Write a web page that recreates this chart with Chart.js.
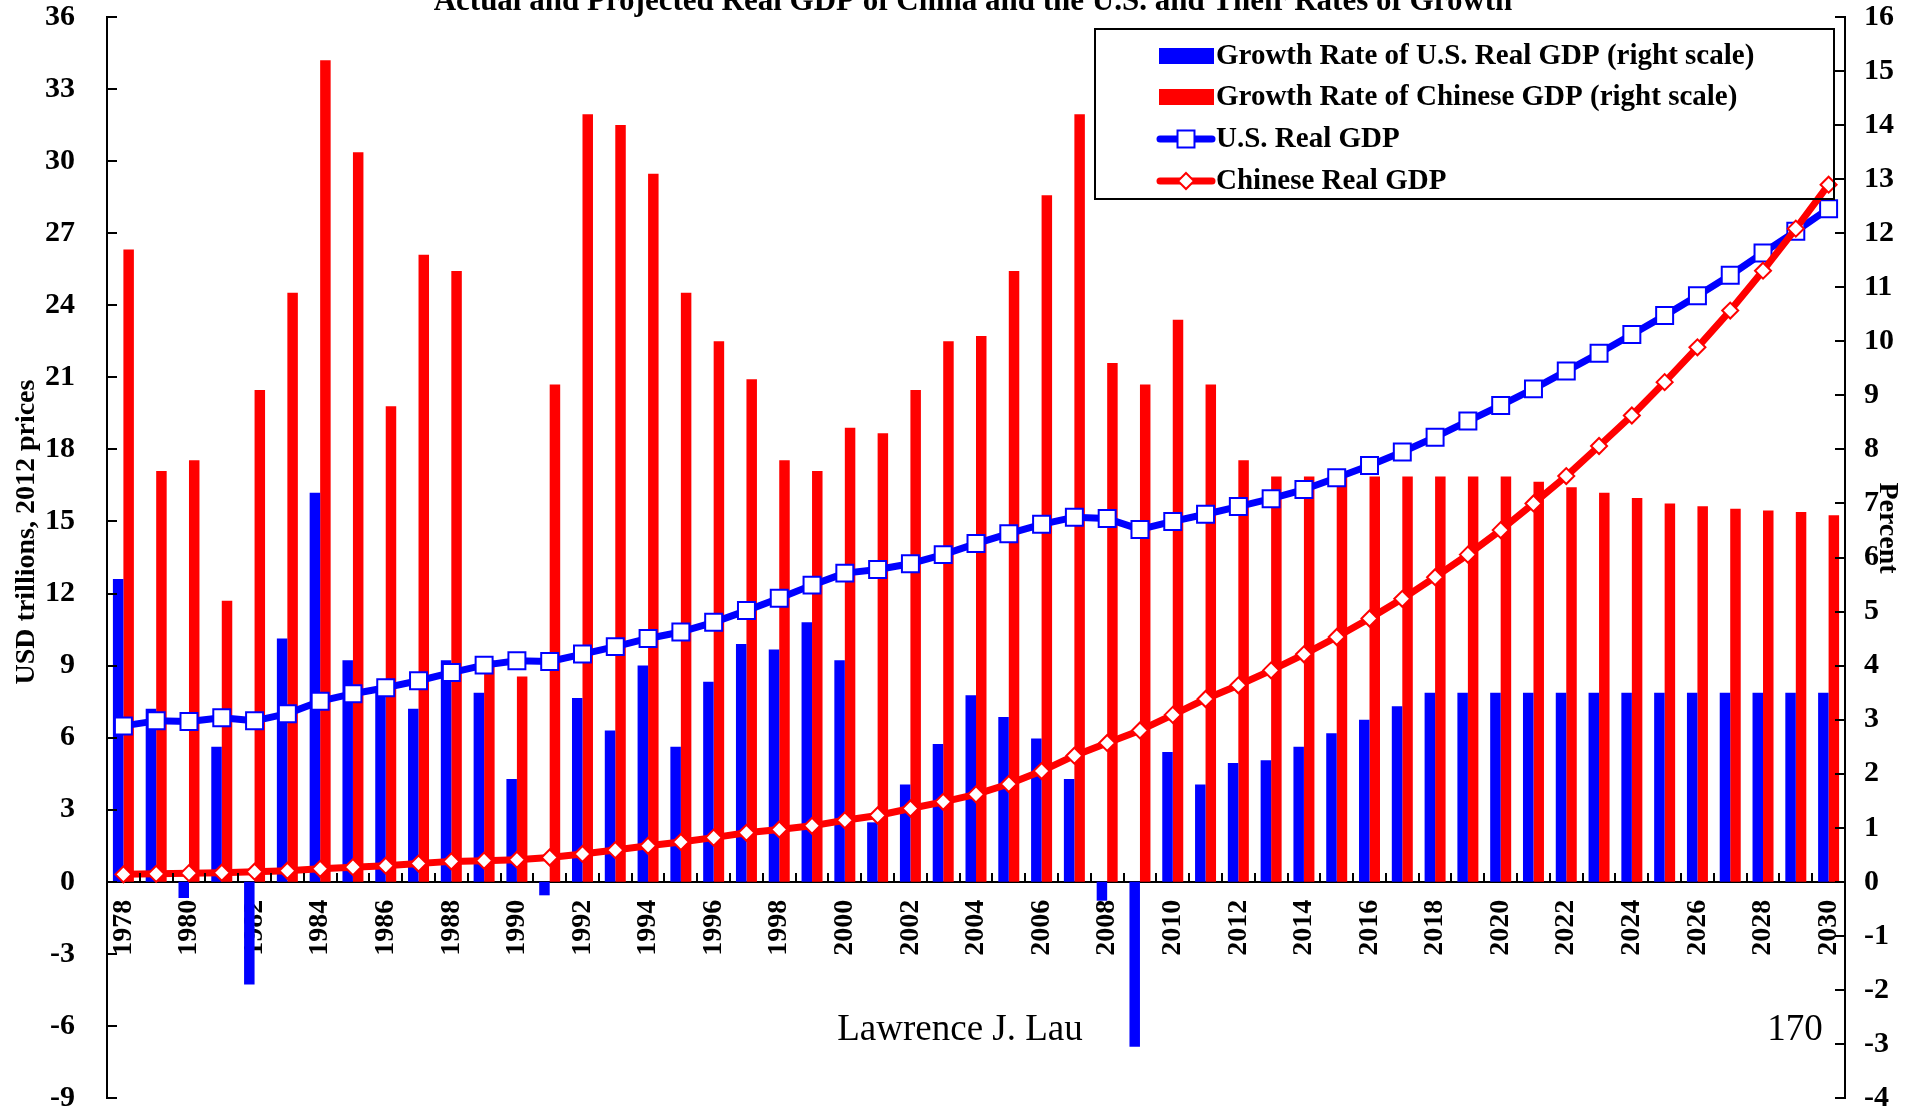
<!DOCTYPE html>
<html>
<head>
<meta charset="utf-8">
<title>Actual and Projected Real GDP of China and the U.S.</title>
<script src="https://cdn.jsdelivr.net/npm/chart.js@4.4.1/dist/chart.umd.min.js"></script>
<style>
  html, body { margin: 0; padding: 0; background: #ffffff; }
  #wrap { position: relative; width: 1907px; height: 1112px; }
</style>
</head>
<body>
<div id="wrap"><canvas id="gdp" width="1907" height="1112"></canvas></div>
<script>
// years on the category axis
var years = [
  '1978','1979','1980','1981','1982','1983','1984','1985','1986','1987',
  '1988','1989','1990','1991','1992','1993','1994','1995','1996','1997',
  '1998','1999','2000','2001','2002','2003','2004','2005','2006','2007',
  '2008','2009','2010','2011','2012','2013','2014','2015','2016','2017',
  '2018','2019','2020','2021','2022','2023','2024','2025','2026','2027',
  '2028','2029','2030'
];

// growth rates, percent (right scale)
var usGrowth = [
  5.6, 3.2, -0.3, 2.5, -1.9, 4.5, 7.2, 4.1, 3.5, 3.2,
  4.1, 3.5, 1.9, -0.25, 3.4, 2.8, 4.0, 2.5, 3.7, 4.4,
  4.3, 4.8, 4.1, 1.1, 1.8, 2.55, 3.45, 3.05, 2.65, 1.9,
  -0.35, -3.05, 2.4, 1.8, 2.2, 2.25, 2.5, 2.75, 3.0, 3.25,
  3.5, 3.5, 3.5, 3.5, 3.5, 3.5, 3.5, 3.5, 3.5, 3.5,
  3.5, 3.5, 3.5
];
var cnGrowth = [
  11.7, 7.6, 7.8, 5.2, 9.1, 10.9, 15.2, 13.5, 8.8, 11.6,
  11.3, 4.1, 3.8, 9.2, 14.2, 14.0, 13.1, 10.9, 10.0, 9.3,
  7.8, 7.6, 8.4, 8.3, 9.1, 10.0, 10.1, 11.3, 12.7, 14.2,
  9.6, 9.2, 10.4, 9.2, 7.8, 7.5, 7.5, 7.5, 7.5, 7.5,
  7.5, 7.5, 7.5, 7.4, 7.3, 7.2, 7.1, 7.0, 6.95, 6.9,
  6.87, 6.84, 6.78
];

// real GDP, USD trillions at 2012 prices (left scale)
var usGDP = [
  6.49, 6.70, 6.67, 6.83, 6.70, 7.00, 7.52, 7.83, 8.08, 8.37,
  8.71, 9.02, 9.20, 9.17, 9.48, 9.79, 10.13, 10.40, 10.80, 11.29,
  11.80, 12.35, 12.85, 13.00, 13.24, 13.62, 14.08, 14.49, 14.88, 15.18,
  15.12, 14.67, 15.00, 15.30, 15.62, 15.95, 16.33, 16.82, 17.33, 17.89,
  18.51, 19.18, 19.83, 20.52, 21.26, 22.00, 22.78, 23.57, 24.40, 25.25,
  26.18, 27.08, 28.02
];
var cnGDP = [
  0.31, 0.33, 0.36, 0.38, 0.42, 0.46, 0.54, 0.61, 0.67, 0.76,
  0.85, 0.88, 0.92, 1.01, 1.16, 1.32, 1.50, 1.66, 1.84, 2.04,
  2.18, 2.33, 2.56, 2.76, 3.05, 3.33, 3.64, 4.07, 4.61, 5.25,
  5.78, 6.30, 6.95, 7.61, 8.18, 8.80, 9.47, 10.19, 10.96, 11.78,
  12.68, 13.62, 14.64, 15.75, 16.89, 18.14, 19.41, 20.80, 22.25, 23.78,
  25.44, 27.19, 29.02
];

var BLUE = '#0000ff';
var RED = '#ff0000';
var SERIF = '"Liberation Serif", "Times New Roman", serif';

// inward tick marks, titles, footer and the boxed legend
var decorations = {
  id: 'decorations',
  afterDraw: function (chart) {
    var ctx = chart.ctx;
    var area = chart.chartArea;
    var yl = chart.scales.y, yr = chart.scales.y1, xs = chart.scales.x;
    var zero = Math.round(yl.getPixelForValue(0));

    ctx.save();
    ctx.strokeStyle = '#000';
    ctx.lineWidth = 2;
    ctx.beginPath();
    yl.ticks.forEach(function (t) {
      var py = Math.round(yl.getPixelForValue(t.value));
      ctx.moveTo(area.left, py); ctx.lineTo(area.left + 10, py);
    });
    yr.ticks.forEach(function (t) {
      var py = Math.round(yr.getPixelForValue(t.value));
      ctx.moveTo(area.right, py); ctx.lineTo(area.right - 10, py);
    });
    var half = (xs.getPixelForValue(1) - xs.getPixelForValue(0)) / 2;
    for (var i = 0; i <= years.length; i++) {
      var px = Math.round(xs.getPixelForValue(i) - half);
      ctx.moveTo(px, zero); ctx.lineTo(px, zero - 9);
    }
    ctx.stroke();

    ctx.fillStyle = '#000';
    ctx.textAlign = 'center';
    ctx.textBaseline = 'alphabetic';
    ctx.font = 'bold 31px ' + SERIF;
    ctx.fillText('Actual and Projected Real GDP of China and the U.S. and Their Rates of Growth', 973, 10);

    ctx.textBaseline = 'middle';
    ctx.font = 'bold 28px ' + SERIF;
    ctx.save();
    ctx.translate(27, 532);
    ctx.rotate(-Math.PI / 2);
    ctx.fillText('USD trillions, 2012 prices', 0, 0);
    ctx.restore();
    ctx.save();
    ctx.translate(1887, 528);
    ctx.rotate(Math.PI / 2);
    ctx.fillText('Percent', 0, 0);
    ctx.restore();

    ctx.font = '37px ' + SERIF;
    ctx.fillText('Lawrence J. Lau', 960, 1030);
    ctx.fillText('170', 1795, 1030);

    // legend
    ctx.lineWidth = 2;
    ctx.strokeRect(1095, 29, 739, 170);
    var rows = [56, 97, 139, 181];
    ctx.textAlign = 'left';
    ctx.font = 'bold 29px ' + SERIF;
    chart.data.datasets.forEach(function (ds, k) {
      var cy = rows[k];
      if (ds.type === 'bar') {
        ctx.fillStyle = ds.backgroundColor;
        ctx.fillRect(1159, cy - 8, 55, 16);
      } else {
        ctx.strokeStyle = ds.borderColor;
        ctx.lineWidth = 7;
        ctx.lineCap = 'round';
        ctx.beginPath();
        ctx.moveTo(1160, cy); ctx.lineTo(1212, cy);
        ctx.stroke();
        ctx.lineCap = 'butt';
        ctx.fillStyle = '#fff';
        ctx.lineWidth = 2;
        ctx.beginPath();
        if (ds.pointStyle === 'rect') {
          var s = ds.pointRadius * Math.SQRT1_2;
          ctx.rect(1186 - s, cy - s, 2 * s, 2 * s);
        } else {
          var r = ds.pointRadius;
          ctx.moveTo(1186, cy - r); ctx.lineTo(1186 + r, cy);
          ctx.lineTo(1186, cy + r); ctx.lineTo(1186 - r, cy);
          ctx.closePath();
        }
        ctx.fill();
        ctx.stroke();
      }
      ctx.fillStyle = '#000';
      ctx.fillText(ds.label, 1216, cy + 1);
    });
    ctx.restore();
  }
};

var tickFont = { family: SERIF, size: 30, weight: 'bold' };

// fixed axis width, no extra vertical padding from the tick labels
function fixedWidth(w) {
  return function (s) {
    s.width = w;
    s.paddingTop = 0;
    s.paddingBottom = 0;
  };
}

new Chart(document.getElementById('gdp'), {
  data: {
    labels: years,
    datasets: [{
      type: 'bar',
      label: 'Growth Rate of U.S. Real GDP (right scale)',
      data: usGrowth,
      yAxisID: 'y1',
      backgroundColor: BLUE,
      order: 3
    }, {
      type: 'bar',
      label: 'Growth Rate of Chinese GDP (right scale)',
      data: cnGrowth,
      yAxisID: 'y1',
      backgroundColor: RED,
      order: 3
    }, {
      type: 'line',
      label: 'U.S. Real GDP',
      data: usGDP,
      yAxisID: 'y',
      borderColor: BLUE,
      borderWidth: 7,
      borderJoinStyle: 'round',
      pointStyle: 'rect',
      pointRadius: 12,
      pointBorderWidth: 2,
      pointBorderColor: BLUE,
      pointBackgroundColor: '#ffffff',
      clip: false,
      order: 2
    }, {
      type: 'line',
      label: 'Chinese Real GDP',
      data: cnGDP,
      yAxisID: 'y',
      borderColor: RED,
      borderWidth: 7,
      borderJoinStyle: 'round',
      pointStyle: 'rectRot',
      pointRadius: 8,
      pointBorderWidth: 2,
      pointBorderColor: RED,
      pointBackgroundColor: '#ffffff',
      clip: false,
      order: 1
    }]
  },
  options: {
    responsive: false,
    animation: false,
    events: [],
    layout: { padding: { top: 17, bottom: 14, left: 0, right: 0 } },
    datasets: { bar: { categoryPercentage: 0.64, barPercentage: 1.0 } },
    plugins: { legend: { display: false }, tooltip: { enabled: false }, title: { display: false } },
    scales: {
      x: {
        type: 'category',
        position: { y: 0 },
        offset: true,
        grid: { display: false, drawTicks: false },
        border: { display: true, color: '#000', width: 2 },
        ticks: {
          autoSkip: false,
          minRotation: 90,
          maxRotation: 90,
          padding: 18,
          color: '#000',
          font: { family: SERIF, size: 28, weight: 'bold' },
          callback: function (val, idx) {
            return idx % 2 === 0 ? this.getLabelForValue(val) : '';
          }
        }
      },
      y: {
        position: 'left',
        min: -9,
        max: 36,
        grid: { display: false, drawTicks: false },
        border: { display: true, color: '#000', width: 2 },
        ticks: { stepSize: 3, padding: 32, color: '#000', font: tickFont },
        afterFit: fixedWidth(107)
      },
      y1: {
        position: 'right',
        min: -4,
        max: 16,
        grid: { display: false, drawTicks: false },
        border: { display: true, color: '#000', width: 2 },
        ticks: { stepSize: 1, padding: 19, color: '#000', font: tickFont },
        afterFit: fixedWidth(62)
      }
    }
  },
  plugins: [decorations]
});
</script>
</body>
</html>
